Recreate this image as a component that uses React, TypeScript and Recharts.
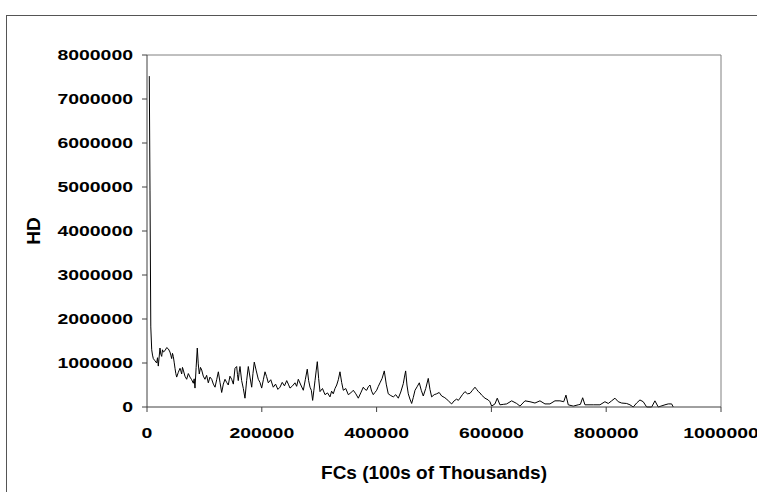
import { Label, Line, LineChart, ReferenceLine, XAxis, YAxis } from "recharts";

// FCs (x) and HD (y)
const fcs = [
  4000, 5200, 6600, 8200, 9600, 11000, 13900, 16900, 18300, 19700,
  22600, 24100, 25600, 27000, 28400, 31300, 34300, 37200, 40000, 41500,
  43000, 44400, 45800, 47300, 48800, 50200, 51700, 54600, 57500, 59000,
  60400, 61800, 63200, 66100, 69100, 72000, 74900, 77800, 80700, 82200,
  83600, 85600, 87600, 89300, 91100, 93200, 95300, 98100, 101000, 103900,
  106800, 109700, 112700, 115600, 118500, 121400, 124300, 127200, 130100, 133000,
  135900, 138700, 141600, 144500, 147500, 150400, 153300, 156200, 157600, 159000,
  160500, 162000, 164900, 167800, 170700, 173600, 176500, 179400, 182400, 184600,
  186900, 190400, 193900, 196800, 199800, 202700, 205600, 208400, 211300, 215600,
  220000, 224000, 228000, 231700, 235600, 239500, 243400, 246200, 249100, 253500,
  257800, 260700, 263600, 268000, 272300, 275800, 279200, 281600, 284000, 286300,
  288600, 290700, 292700, 294700, 296700, 299000, 301400, 305700, 310100, 314500,
  318800, 321600, 324500, 327500, 330500, 333300, 336200, 339100, 342000, 346300,
  350700, 355000, 359400, 363800, 368100, 372400, 376800, 379700, 382700, 385600,
  388500, 391300, 394200, 397100, 400100, 403000, 405900, 409600, 413400, 416800,
  420300, 424700, 429100, 433400, 437800, 442100, 446500, 448500, 450600, 452900,
  455200, 458100, 461100, 464000, 466900, 470600, 474400, 477800, 481300, 485600,
  490000, 493000, 495900, 500300, 504700, 509000, 513400, 517700, 522100, 526400,
  530800, 535100, 539500, 542400, 545200, 549500, 553900, 558300, 562700, 567000,
  571400, 574300, 577200, 580100, 583000, 588800, 594500, 597400, 600400, 606200,
  610200, 614900, 620700, 626600, 635300, 644000, 649800, 658500, 667200, 675900,
  684600, 693300, 702000, 710700, 719400, 726000, 729900, 733900, 742600, 751300,
  755000, 759000, 763000, 777500, 789100, 797800, 803600, 809500, 815300, 821000,
  826900, 835600, 841400, 847100, 853000, 858800, 864500, 870500, 879200, 884900,
  890700, 902400, 908100, 914000, 916800,
];

const hd = [
  7520000, 4930000, 1820000, 1300000, 1180000, 1100000, 1050000, 1000000, 1120000, 930000,
  1340000, 1200000, 1150000, 1300000, 1250000, 1280000, 1350000, 1320000, 1250000, 1180000,
  1100000, 1220000, 1150000, 1020000, 880000, 760000, 680000, 790000, 880000, 820000,
  750000, 900000, 840000, 700000, 630000, 760000, 680000, 620000, 540000, 640000,
  430000, 900000, 1340000, 980000, 750000, 900000, 840000, 700000, 630000, 720000,
  550000, 680000, 630000, 520000, 450000, 620000, 800000, 560000, 330000, 520000,
  630000, 560000, 500000, 700000, 630000, 520000, 880000, 920000, 740000, 600000,
  780000, 920000, 600000, 420000, 200000, 600000, 920000, 680000, 450000, 760000,
  1020000, 820000, 630000, 560000, 430000, 620000, 800000, 690000, 550000, 620000,
  450000, 520000, 400000, 450000, 560000, 480000, 600000, 520000, 430000, 480000,
  550000, 470000, 630000, 500000, 380000, 620000, 860000, 600000, 450000, 380000,
  150000, 380000, 600000, 820000, 1030000, 650000, 350000, 420000, 280000, 320000,
  230000, 360000, 300000, 420000, 500000, 620000, 800000, 560000, 380000, 420000,
  280000, 320000, 380000, 300000, 200000, 320000, 450000, 400000, 380000, 460000,
  500000, 360000, 280000, 330000, 380000, 470000, 550000, 650000, 820000, 520000,
  300000, 260000, 230000, 280000, 200000, 340000, 530000, 680000, 820000, 500000,
  300000, 180000, 80000, 220000, 380000, 460000, 550000, 380000, 250000, 420000,
  650000, 400000, 230000, 280000, 300000, 330000, 250000, 220000, 180000, 120000,
  70000, 140000, 180000, 150000, 200000, 280000, 350000, 300000, 310000, 380000,
  450000, 400000, 350000, 320000, 270000, 200000, 160000, 120000, 20000, 70000,
  200000, 50000, 60000, 70000, 140000, 80000, 20000, 140000, 120000, 90000,
  140000, 70000, 70000, 140000, 140000, 120000, 270000, 50000, 20000, 50000,
  60000, 210000, 50000, 50000, 50000, 120000, 80000, 140000, 200000, 120000,
  90000, 80000, 50000, 0, 90000, 160000, 120000, 0, 0, 140000,
  0, 50000, 70000, 70000, 0,
];

const xTicks = [0, 200000, 400000, 600000, 800000, 1000000];
const yTicks = [0, 1000000, 2000000, 3000000, 4000000, 5000000, 6000000, 7000000, 8000000];

const FONT = "'Liberation Sans', Arial, sans-serif";
const DIGIT_W = 10.8; // the labels in the picture are wide

const YTick = ({ x, y, payload }: any) => {
  const s = String(payload.value);
  return (
    <text x={x} y={y} dy={5} textAnchor="end" fontFamily={FONT} fontSize={15} fontWeight="bold" fill="#000"
      textLength={s.length * DIGIT_W} lengthAdjust="spacingAndGlyphs">
      {s}
    </text>
  );
};

const XTick = ({ x, y, payload }: any) => {
  const s = String(payload.value);
  return (
    <text x={x} y={y} dy={18} textAnchor="middle" fontFamily={FONT} fontSize={15} fontWeight="bold" fill="#000"
      textLength={s.length * DIGIT_W} lengthAdjust="spacingAndGlyphs">
      {s}
    </text>
  );
};

export default function App() {
  const data = fcs.map((x, i) => ({ fcs: x, hd: hd[i] }));

  return (
    <div style={{ position: "absolute", left: 0, top: 0, width: 757, height: 492, overflow: "hidden", background: "#fff" }}>
      <div
        style={{
          position: "absolute",
          left: 6,
          top: 15,
          width: 900,
          height: 600,
          borderLeft: "1px solid #555",
          borderTop: "1px solid #555",
        }}
      />
      <LineChart
        width={757}
        height={492}
        data={data}
        margin={{ top: 55, right: 36, left: 57, bottom: 55 }}
        style={{ position: "absolute", left: 0, top: 0 }}
      >
        <XAxis
          type="number"
          dataKey="fcs"
          domain={[0, 1000000]}
          ticks={xTicks}
          interval={0}
          height={30}
          stroke="#404040"
          tickSize={5}
          tickMargin={8}
          tick={<XTick />}
        >
          <Label
            content={({ viewBox }: any) => (
              <text x={viewBox.x + viewBox.width / 2} y={viewBox.y + 72} textAnchor="middle"
                fontFamily={FONT} fontSize={19} fontWeight="bold" fill="#000">
                FCs (100s of Thousands)
              </text>
            )}
          />
        </XAxis>
        <YAxis
          type="number"
          domain={[0, 8000000]}
          ticks={yTicks}
          interval={0}
          width={90}
          stroke="#404040"
          tickSize={5}
          tickMargin={9}
          tick={<YTick />}
        >
          <Label
            content={({ viewBox }: any) => {
              const cx = viewBox.x - 24;
              const cy = viewBox.y + viewBox.height / 2;
              return (
                <text x={cx} y={cy} textAnchor="middle" dominantBaseline="central"
                  transform={`rotate(-90, ${cx}, ${cy})`}
                  fontFamily={FONT} fontSize={19} fontWeight="bold" fill="#000">
                  HD
                </text>
              );
            }}
          />
        </YAxis>
        <ReferenceLine y={8000000} stroke="#808080" strokeWidth={1} ifOverflow="extendDomain" />
        <ReferenceLine x={1000000} stroke="#808080" strokeWidth={1} ifOverflow="extendDomain" />
        <Line
          type="linear"
          dataKey="hd"
          stroke="#000"
          strokeWidth={1}
          dot={false}
          activeDot={false}
          isAnimationActive={false}
        />
      </LineChart>
    </div>
  );
}
